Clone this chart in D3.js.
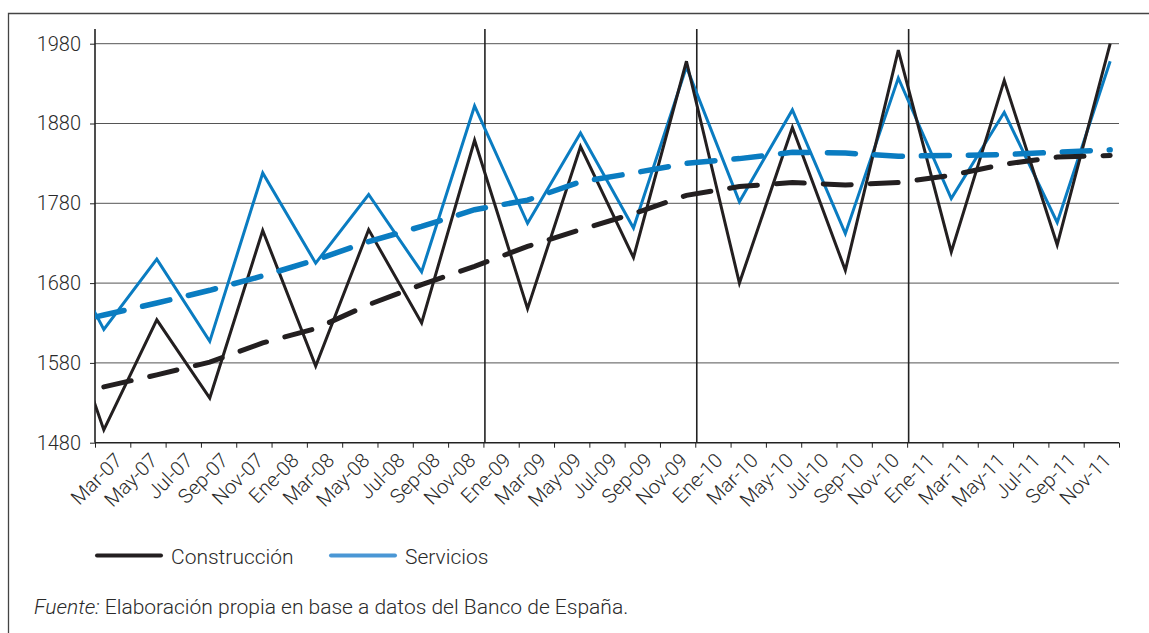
<!DOCTYPE html>
<html>
<head>
<meta charset="utf-8">
<script src="https://cdn.jsdelivr.net/npm/d3@7"></script>
<style>
  body { margin: 0; background: #fff; }
  text { font-family: Roboto, "DejaVu Sans", sans-serif; font-weight: 300; fill: #2a2a2a; }
</style>
</head>
<body>
<div class="container"></div>
<script>
// etiquetas bimestrales del eje x
var monthLabels = ["Mar-07","May-07","Jul-07","Sep-07","Nov-07",
    "Ene-08","Mar-08","May-08","Jul-08","Sep-08","Nov-08",
    "Ene-09","Mar-09","May-09","Jul-09","Sep-09","Nov-09",
    "Ene-10","Mar-10","May-10","Jul-10","Sep-10","Nov-10",
    "Ene-11","Mar-11","May-11","Jul-11","Sep-11","Nov-11"];

// datos trimestrales (IV-06 queda fuera del area, recortado)
var quarters = ["IV-06","I-07","II-07","III-07","IV-07","I-08","II-08","III-08","IV-08",
    "I-09","II-09","III-09","IV-09","I-10","II-10","III-10","IV-10",
    "I-11","II-11","III-11","IV-11"];
var construccion = [1688,1496,1634,1536,1746,1576,1747,1630,1859,1648,1851,1712,1958,1680,1875,1696,1972,1719,1934,1728,1980];
var servicios = [1748,1622,1710,1607,1818,1705,1791,1694,1902,1755,1868,1749,1951,1782,1897,1742,1937,1786,1894,1756,1958];
var tendConstruccion = [null,1550,1565,1581,1605,1623,1653,1678,1701,1726,1747,1767,1790,1801,1806,1803,1806,1815,1829,1838,1840];
var tendServicios = [1625,1640,1655,1671,1689,1709,1732,1751,1772,1784,1807,1818,1830,1836,1844,1843,1839,1840,1841,1844,1847];

var yTicks = [1480,1580,1680,1780,1880,1980];
var yearMarks = ["Ene-09","Ene-10","Ene-11"];

var w = 1149, h = 633;
var plotLeft = 95, plotRight = 1119, plotTop = 29;

var svg = d3.select(".container")
    .append("svg")
    .attr("width", w)
    .attr("height", h);

// marco
svg.append("path")
    .attr("d", "M8.5,640V13.5H1150")
    .attr("fill", "none")
    .attr("stroke", "#444")
    .attr("stroke-width", 1.3);

// x en meses desde Mar-07 (cada etiqueta = 2 meses)
var x = d3.scaleLinear()
    .domain([0, monthLabels.length * 2])
    .range([plotLeft, plotRight]);

var y = d3.scaleLinear()
    .domain([1480, 1980])
    .range([442.7, 43.7]);

function qMonth(i) { return -2.5 + 3 * i; }

// rejilla
svg.selectAll(".grid")
    .data(yTicks.slice(1))
    .enter()
    .append("line")
    .attr("x1", plotLeft).attr("x2", plotRight)
    .attr("y1", function(d) { return y(d); })
    .attr("y2", function(d) { return y(d); })
    .attr("stroke", "#555")
    .attr("stroke-width", 1);

// eje y
var yAxis = d3.axisLeft(y)
    .tickValues(yTicks)
    .tickSize(5)
    .tickPadding(9)
    .tickFormat(d3.format("d"));

var yg = svg.append("g")
    .attr("transform", "translate(" + plotLeft + ",0)")
    .call(yAxis);
yg.select(".domain").remove();
yg.selectAll("line").attr("stroke", "#222");
yg.selectAll("text")
    .attr("font-size", "20px")
    .attr("font-family", null)
    .style("fill", "#2a2a2a");

svg.append("line")
    .attr("x1", plotLeft).attr("x2", plotLeft)
    .attr("y1", plotTop).attr("y2", y(1480))
    .attr("stroke", "#222")
    .attr("stroke-width", 1.6);

// eje x
var xAxis = d3.axisBottom(x)
    .tickValues(d3.range(0, monthLabels.length * 2 + 1, 2))
    .tickSize(5)
    .tickFormat("");

var xg = svg.append("g")
    .attr("transform", "translate(0," + y(1480) + ")")
    .call(xAxis);
xg.select(".domain")
    .attr("stroke", "#222")
    .attr("stroke-width", 1.6)
    .attr("d", "M" + plotLeft + ",0H" + plotRight);
xg.selectAll("line").attr("stroke", "#222");

svg.selectAll(".xlabel")
    .data(monthLabels)
    .enter()
    .append("text")
    .attr("class", "xlabel")
    .attr("text-anchor", "end")
    .attr("font-size", "20px")
    .attr("transform", function(d, i) {
        return "translate(" + (x(i * 2 + 1) + 11) + "," + (y(1480) + 19) + ")rotate(-45)";
    })
    .text(function(d) { return d; });

// separadores de año
svg.selectAll(".year")
    .data(yearMarks)
    .enter()
    .append("line")
    .attr("x1", function(d) { return x(monthLabels.indexOf(d) * 2) + 1.5; })
    .attr("x2", function(d) { return x(monthLabels.indexOf(d) * 2) + 1.5; })
    .attr("y1", plotTop).attr("y2", y(1480))
    .attr("stroke", "#222")
    .attr("stroke-width", 1.6);

// series
svg.append("clipPath")
    .attr("id", "plot")
    .append("rect")
    .attr("x", plotLeft).attr("y", 0)
    .attr("width", plotRight - plotLeft).attr("height", y(1480));

function makeLine(values) {
    return d3.line()
        .defined(function(d) { return d != null; })
        .x(function(d, i) { return x(qMonth(i)); })
        .y(function(d) { return y(d); })(values);
}

var series = [
    { values: servicios, color: "#0a7cc1", width: 3, dash: null },
    { values: construccion, color: "#231f20", width: 3, dash: null },
    { values: tendServicios, color: "#0a7cc1", width: 5.5, dash: "28,19" },
    { values: tendConstruccion, color: "#231f20", width: 5, dash: "28,19" }
];

var plot = svg.append("g").attr("clip-path", "url(#plot)");
series.forEach(function(s) {
    plot.append("path")
        .attr("d", makeLine(s.values))
        .attr("fill", "none")
        .attr("stroke", s.color)
        .attr("stroke-width", s.width)
        .attr("stroke-linejoin", "miter")
        .attr("stroke-linecap", s.dash ? "round" : "butt")
        .attr("stroke-dasharray", s.dash);
});

// leyenda
var legend = [
    { name: "Construcción", color: "#231f20", x: 97 },
    { name: "Servicios", color: "#4a97d5", x: 331 }
];
legend.forEach(function(l) {
    svg.append("line")
        .attr("x1", l.x).attr("x2", l.x + 64)
        .attr("y1", 555.5).attr("y2", 555.5)
        .attr("stroke", l.color)
        .attr("stroke-width", 4)
        .attr("stroke-linecap", "round");
    svg.append("text")
        .attr("x", l.x + 74)
        .attr("y", 564)
        .attr("font-size", "21px")
        .text(l.name);
});

// fuente
var src = svg.append("text")
    .attr("x", 34)
    .attr("y", 614)
    .attr("font-size", "21px");
src.append("tspan").attr("font-style", "italic").text("Fuente:");
src.append("tspan").text(" Elaboración propia en base a datos del Banco de España.");
</script>
</body>
</html>
